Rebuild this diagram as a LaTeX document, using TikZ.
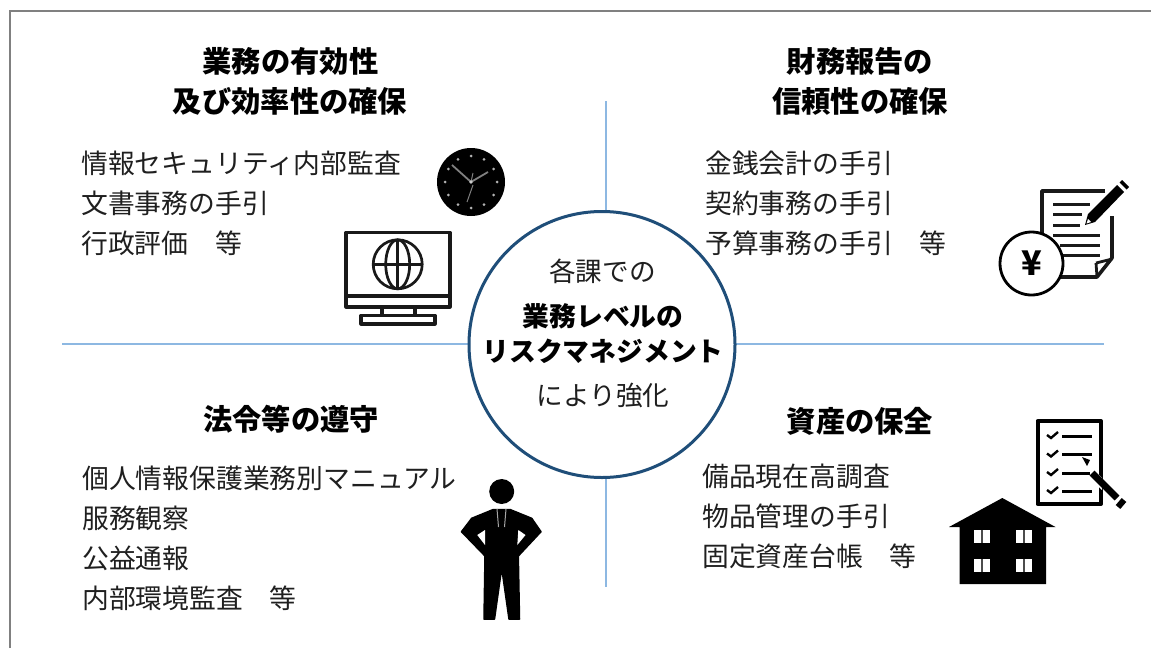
\documentclass[tikz,border=0pt]{standalone}
\usepackage{fontspec}
\setmainfont{Noto Sans CJK JP}
\setsansfont{Noto Sans CJK JP}
\tikzset{
  body/.style={font=\fontsize{26.8}{30}\selectfont,anchor=west,inner sep=0pt,text=black!88},
  ttl/.style={font=\fontsize{29.3}{30}\selectfont\bfseries,anchor=center,inner sep=0pt,text=black},
  mid/.style={font=\fontsize{26.6}{30}\selectfont,anchor=center,inner sep=0pt,text=black!88},
  midb/.style={font=\fontsize{26.8}{30}\selectfont\bfseries,anchor=center,inner sep=0pt,text=black},
  ink/.style={draw=black!90,line width=3.2pt,line join=round},
  thinink/.style={draw=black!90,line width=2.7pt},
}
\definecolor{axisc}{HTML}{8DB8E2}
\definecolor{ringc}{HTML}{1F4E79}
\definecolor{framec}{HTML}{808080}
\begin{document}
\begin{tikzpicture}[x=1pt,y=-1pt]
\useasboundingbox (0,0) rectangle (1151,648);
\fill[white] (0,0) rectangle (1151,648);
% frame
\draw[draw=framec,line width=2.2pt] (10,648) -- (10,11) -- (1151,11);
% axes
\coordinate (hl) at (62,344); \coordinate (hr) at (1104,344);
\coordinate (vt) at (606,101); \coordinate (vb) at (606,587);
\draw[draw=axisc,line width=2pt] (hl) -- (hr);
\draw[draw=axisc,line width=2pt] (vt) -- (vb);
% centre
\node[circle,draw=ringc,fill=white,line width=3pt,minimum size=266pt,inner sep=0pt] (ring) at (602,344.5) {};
\node[mid] (c1) at (602.5,271) {各課での};
\node[midb] (c2) at (603,316) {業務レベルの};
\node[midb] (c3) at (603,351) {リスクマネジメント};
\node[mid] (c4) at (603,395) {により強化};
% titles
\node[ttl] (t1a) at (290.5,61) {業務の有効性};
\node[ttl] (t1b) at (290,101) {及び効率性の確保};
\node[ttl] (t2a) at (860,61) {財務報告の};
\node[ttl] (t2b) at (860,101) {信頼性の確保};
\node[ttl] (t3) at (291,419) {法令等の遵守};
\node[ttl] (t4) at (860,421) {資産の保全};
% lists
\node[body] (a1) at (81,163) {情報セキュリティ内部監査};
\node[body] (a2) at (81,203) {文書事務の手引};
\node[body] (a3) at (81,243) {行政評価　等};
\node[body] (b1) at (705,163) {金銭会計の手引};
\node[body] (b2) at (705,203) {契約事務の手引};
\node[body] (b3) at (705,243) {予算事務の手引　等};
\node[body] (d1) at (82,478) {個人情報保護業務別マニュアル};
\node[body] (d2) at (82,518) {服務観察};
\node[body] (d3) at (82,558) {公益通報};
\node[body] (d4) at (82,598) {内部環境監査　等};
\node[body] (e1) at (702,476) {備品現在高調査};
\node[body] (e2) at (702,516) {物品管理の手引};
\node[body] (e3) at (702,556) {固定資産台帳　等};
% clock
\fill[black] (471,182) circle (34);
\foreach \a in {0,30,...,330} \fill[black!30] ({471+26*cos(\a)},{182+26*sin(\a)}) circle (1.5);
\draw[black!50,line width=1.8pt] (471,182) -- (452,165);
\draw[black!50,line width=1.8pt] (471,182) -- (488,172);
\draw[black!50,line width=1pt] (473,185) -- (467,202);
\draw[black!50,line width=1pt] (471,182) -- (473,173);
\fill[black!20] (471,182) circle (1.8);
% monitor
\draw[ink] (346,232.5) rectangle (450,307);
\draw[ink] (346,296) -- (450,296);
\draw[ink] (382,307) -- (382,315) (415,307) -- (415,315);
\draw[ink] (361,315.5) rectangle (435,324);
\draw[thinink] (397.7,264.3) circle (24.5);
\draw[thinink] (397.7,264.3) ellipse (12 and 24.5);
\draw[thinink] (397.7,239.8) -- (397.7,288.8) (373.2,264.3) -- (422.2,264.3);
% document with pencil
\draw[ink,line width=3.6pt] (1105,191) -- (1042,191) -- (1042,240);
\draw[ink,line width=3.6pt] (1112,216) -- (1112,258) -- (1097,277) -- (1060,277);
\draw[ink,line width=2.8pt] (1096,263) -- (1112,259) (1096,263) -- (1097,277);
\foreach \yy/\xa/\xb in {204/1053/1090,214/1053/1082,225/1053/1080,235/1053/1100,245/1060/1100,255/1063/1100}
  \draw[thinink,line width=3pt] (\xa,\yy) -- (\xb,\yy);
\fill[black] (1085,225) -- (1088,214) -- (1117,185) -- (1124,192) -- (1095,222) -- cycle;
\fill[white] (1086.5,223.5) -- (1088,219) -- (1091,222) -- cycle;
\fill[black] (1119.5,182.5) -- (1122,180) -- (1129,187) -- (1126.5,189.5) -- cycle;
\node[circle,draw=black,fill=white,line width=2.8pt,minimum size=63pt,inner sep=0pt,font=\fontsize{34}{34}\selectfont\bfseries] (yen) at (1031.5,263.5) {¥};
% person
\fill[black] (501.7,491.5) circle (12.5);
\fill[black,draw=black,line width=1.5pt,line join=round] (493.3,509.5) -- (510,509.5) -- (531.7,518.3) -- (541,531.7) -- (518.3,556)
  -- (519.5,619) -- (509,619) -- (501.7,568) -- (494.5,619) -- (484,619)
  -- (485,556) -- (461.5,531.7) -- (471.7,518.3) -- cycle;
\fill[white] (485,530) -- (477.3,535) -- (485,545) -- cycle;
\fill[white] (518.3,530) -- (525.5,535) -- (517.3,545) -- cycle;
\draw[black!35,line width=1pt] (497,509) -- (498.5,527) (506,509) -- (504.5,527);
% checklist
\draw[black,line width=4pt,line join=round] (1037.5,421) rectangle (1101,504);
\foreach \yy in {436,454.5,473,491} {
  \draw[black,line width=2.4pt] (1047,\yy-1) -- (1051,\yy+2) -- (1058,\yy-4);
  \draw[black,line width=3pt] (1062,\yy) -- (1092,\yy);
}
\fill[white] (1083,459) -- (1102,478) -- (1102,490) -- (1088,477) -- cycle;
\fill[black] (1082,457) -- (1090,460) -- (1087,466) -- cycle;
\draw[black,line width=7pt] (1092,473) -- (1117,498);
\draw[black,line width=6pt] (1118,507) -- (1124,500);
\draw[black,line width=3pt] (1062,473) -- (1090,473);
% house
\fill[black] (1002.3,498) -- (1055.5,527) -- (1046,527) -- (1046,584) -- (959.5,584) -- (959.5,527) -- (949,527) -- cycle;
\foreach \xx/\yy in {973.5/530,1015.5/530,973.5/558.5,1015.5/558.5} {
  \fill[white] (\xx,\yy) rectangle ++(16,13);
  \fill[black!70] (\xx+7,\yy) rectangle ++(2,13);
}
\end{tikzpicture}
\end{document}
